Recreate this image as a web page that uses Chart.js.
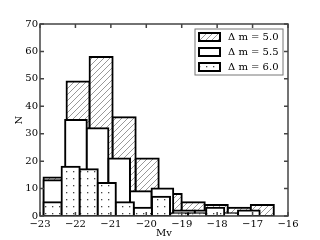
<!DOCTYPE html>
<html>
<head>
<meta charset="utf-8">
<script src="https://cdn.jsdelivr.net/npm/chart.js@4.4.0/dist/chart.umd.min.js"></script>
<style>
html, body { margin: 0; padding: 0; background: #fff; }
</style>
</head>
<body>
<canvas id="hist" width="320" height="240"></canvas>
<script>
// bin edges (Mv) and counts, one histogram per delta m
const edges50 = [-22.9, -22.25, -21.6, -20.95, -20.3, -19.65, -19.0, -18.35, -17.7, -17.05, -16.4];
const counts50 = [14, 49, 58, 36, 21, 8, 5, 4, 3, 4];
const edges55 = [-22.9, -22.29, -21.68, -21.07, -20.46, -19.85, -19.24, -18.63, -18.02, -17.41, -16.8];
const counts55 = [13, 35, 32, 21, 9, 10, 2, 2, 1, 2];
const edges60 = [-22.9, -22.39, -21.88, -21.37, -20.86, -20.35, -19.84, -19.33, -18.82, -18.31, -17.8];
const counts60 = [5, 18, 17, 12, 5, 3, 7, 1, 1, 3];
const labels = ['\u0394 m = 5.0', '\u0394 m = 5.5', '\u0394 m = 6.0'];
const xTicks = [-23, -22, -21, -20, -19, -18, -17, -16];
const yTicks = [0, 10, 20, 30, 40, 50, 60, 70];

const font = {family: 'DejaVu Serif', size: 10};

// bar centred in each bin
const bins = (edges, counts) => counts.map((c, i) => ({x: (edges[i] + edges[i + 1]) / 2, y: c}));

function hatch() {
	const c = document.createElement('canvas');
	c.width = 6; c.height = 6;
	const g = c.getContext('2d');
	g.fillStyle = '#fff';
	g.fillRect(0, 0, 6, 6);
	g.strokeStyle = '#999';
	g.lineWidth = 1;
	g.beginPath();
	g.moveTo(0, 6); g.lineTo(6, 0);
	g.moveTo(-1, 1); g.lineTo(1, -1);
	g.moveTo(5, 7); g.lineTo(7, 5);
	g.stroke();
	return g.createPattern(c, 'repeat');
}

function dots() {
	const c = document.createElement('canvas');
	c.width = 7; c.height = 7;
	const g = c.getContext('2d');
	g.fillStyle = '#fff';
	g.fillRect(0, 0, 7, 7);
	g.fillStyle = '#444';
	g.fillRect(3, 3, 1.3, 1.3);
	return g.createPattern(c, 'repeat');
}

const frame = {
	id: 'frame',
	afterDraw(chart) {
		const {ctx, chartArea: a, scales} = chart;
		ctx.save();
		ctx.strokeStyle = '#444';
		ctx.lineWidth = 1.5;
		ctx.strokeRect(a.left, a.top, a.width, a.height);
		ctx.beginPath();
		xTicks.forEach(v => {
			const px = scales.x.getPixelForValue(v);
			ctx.moveTo(px, a.top); ctx.lineTo(px, a.top + 4);
			ctx.moveTo(px, a.bottom); ctx.lineTo(px, a.bottom - 4);
		});
		yTicks.forEach(v => {
			const py = scales.y.getPixelForValue(v);
			ctx.moveTo(a.left, py); ctx.lineTo(a.left + 4, py);
			ctx.moveTo(a.right, py); ctx.lineTo(a.right - 4, py);
		});
		ctx.stroke();

		// legend inside the upper right corner
		const lx = a.right - 93, ly = a.top + 5;
		ctx.fillStyle = '#fff';
		ctx.fillRect(lx, ly, 88, 46);
		ctx.strokeStyle = '#777';
		ctx.lineWidth = 1;
		ctx.strokeRect(lx, ly, 88, 46);
		const ds = chart.data.datasets.slice().reverse();
		ds.forEach((d, i) => {
			const cy = ly + 8 + i * 15;
			ctx.fillStyle = d.backgroundColor;
			ctx.fillRect(lx + 4, cy - 4, 21, 8);
			ctx.strokeStyle = '#000';
			ctx.lineWidth = 2;
			ctx.strokeRect(lx + 4, cy - 4, 21, 8);
			ctx.fillStyle = '#000';
			ctx.font = '10px "DejaVu Serif"';
			ctx.textBaseline = 'middle';
			ctx.fillText(d.label, lx + 33, cy);
		});
		ctx.restore();
	}
};

const hiddenX = {
	type: 'linear', min: -23, max: -16, display: false, offset: false,
	grid: {offset: false},
	ticks: {stepSize: 1}
};

new Chart('hist', {
	type: 'bar',
	data: {
		datasets: [
			{label: labels[2], data: bins(edges60, counts60), xAxisID: 'x3', backgroundColor: dots()},
			{label: labels[1], data: bins(edges55, counts55), xAxisID: 'x2', backgroundColor: '#fff'},
			{label: labels[0], data: bins(edges50, counts50), xAxisID: 'x', backgroundColor: hatch()}
		]
	},
	options: {
		responsive: false,
		animation: false,
		layout: {padding: {top: 24, right: 32, left: 0, bottom: 0}},
		datasets: {
			bar: {
				grouped: false,
				barPercentage: 1,
				categoryPercentage: 1,
				borderColor: '#000',
				borderWidth: 2,
				borderSkipped: false,
				inflateAmount: 1
			}
		},
		scales: {
			x: {
				type: 'linear', min: -23, max: -16, offset: false,
				afterBuildTicks: s => { s.ticks = xTicks.map(v => ({value: v})); },
				ticks: {
					padding: 2, color: '#000', font: font, maxRotation: 0, autoSkip: false,
					callback: v => String(v).replace('-', '\u2212')
				},
				grid: {display: false, drawTicks: false, offset: false},
				border: {display: false},
				title: {display: true, text: 'Mv', color: '#000', font: font, padding: {top: 0, bottom: 1}},
				afterFit: s => { s.height = 24; }
			},
			x2: hiddenX,
			x3: hiddenX,
			y: {
				min: 0, max: 70,
				afterBuildTicks: s => { s.ticks = yTicks.map(v => ({value: v})); },
				ticks: {padding: 2, color: '#000', font: font},
				grid: {display: false, drawTicks: false},
				border: {display: false},
				title: {display: true, text: 'N', color: '#000', font: font, padding: {top: 13, bottom: 0}},
				afterFit: s => { s.width = 40; }
			}
		},
		plugins: {
			legend: {display: false},
			tooltip: {enabled: false}
		}
	},
	plugins: [frame]
});
</script>
</body>
</html>
